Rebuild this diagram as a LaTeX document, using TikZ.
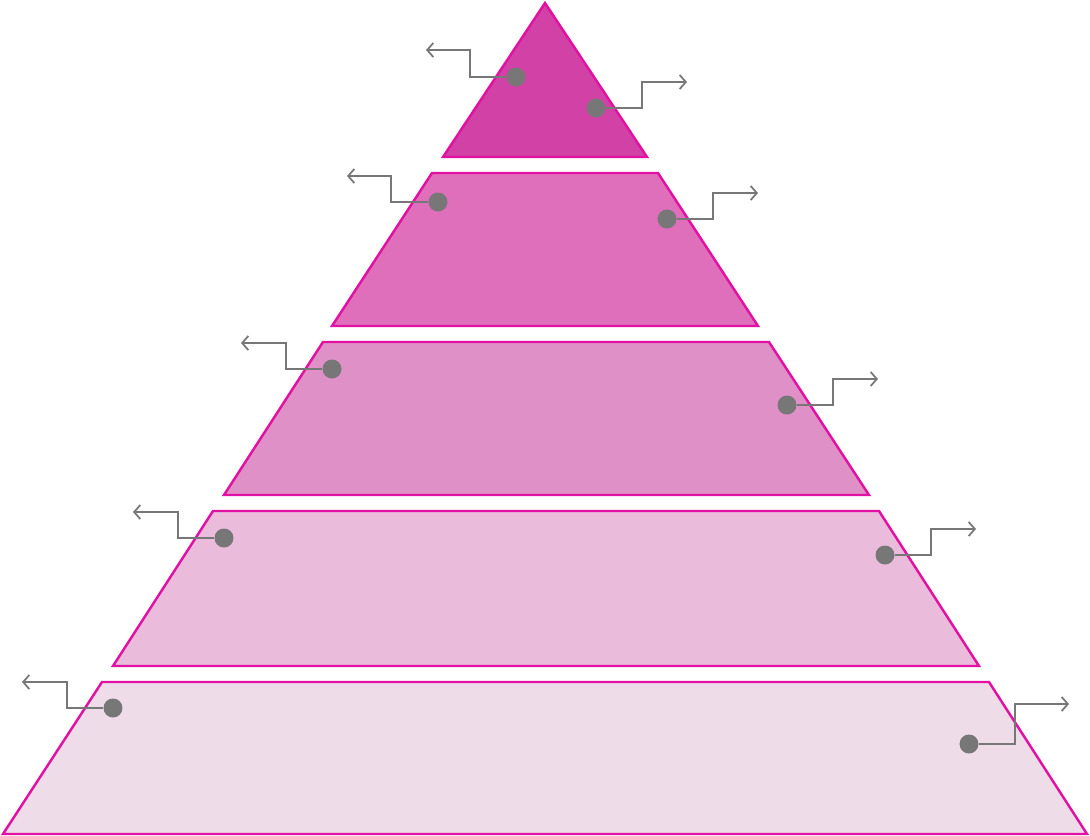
\documentclass[tikz,border=0pt]{standalone}
\usepackage{tikz}
\usetikzlibrary{positioning,arrows.meta}
\definecolor{rim}{HTML}{E011A3}
\definecolor{tierA}{HTML}{D241A6}
\definecolor{tierB}{HTML}{DF6FBB}
\definecolor{tierC}{HTML}{DE90C7}
\definecolor{tierD}{HTML}{EBBBDC}
\definecolor{tierE}{HTML}{EEDCE8}
\definecolor{pin}{HTML}{777777}
\tikzset{
  tier/.style={draw=rim, line width=1.4pt, line join=miter},
  dot/.style={circle, fill=pin, inner sep=0pt, minimum size=0.38cm},
  leader/.style={draw=pin, line width=1pt, -{Straight Barb[length=3.5pt,width=8pt]}}
}
\begin{document}
\begin{tikzpicture}[x=0.02cm, y=-0.02cm]
    \useasboundingbox (0,0) rectangle (1090,836);

    % pyramid tiers
    \draw[tier, fill=tierA] (545,3) -- (647,157) -- (443,157) -- cycle;
    \draw[tier, fill=tierB] (432,173) -- (658,173) -- (758,326) -- (332,326) -- cycle;
    \draw[tier, fill=tierC] (323,342) -- (769,342) -- (869,495) -- (224,495) -- cycle;
    \draw[tier, fill=tierD] (213,511) -- (879,511) -- (979,666) -- (113,666) -- cycle;
    \draw[tier, fill=tierE] (102,682) -- (989,682) -- (1087,834) -- (3,834) -- cycle;

    % leader ends
    \coordinate (l1end) at (426,50);
    \coordinate (r1end) at (687,82);
    \coordinate (l2end) at (347,176);
    \coordinate (r2end) at (758,193);
    \coordinate (l3end) at (241,343);
    \coordinate (r3end) at (878,379);
    \coordinate (l4end) at (133,512);
    \coordinate (r4end) at (976,529);
    \coordinate (l5end) at (22,682);
    \coordinate (r5end) at (1069,704);

    % dots
    \node[dot] (l1) at (516,77) {};
    \node[dot] (r1) at (596,108) {};
    \node[dot] (l2) at (438,202) {};
    \node[dot] (r2) at (667,219) {};
    \node[dot] (l3) at (332,369) {};
    \node[dot] (r3) at (787,405) {};
    \node[dot] (l4) at (224,538) {};
    \node[dot] (r4) at (885,555) {};
    \node[dot] (l5) at (113,708) {};
    \node[dot] (r5) at (969,744) {};

    % leaders
    \draw[leader] (l1) -- ++(-46,0) |- (l1end);
    \draw[leader] (r1) -- ++(46,0) |- (r1end);
    \draw[leader] (l2) -- ++(-47,0) |- (l2end);
    \draw[leader] (r2) -- ++(46,0) |- (r2end);
    \draw[leader] (l3) -- ++(-46,0) |- (l3end);
    \draw[leader] (r3) -- ++(46,0) |- (r3end);
    \draw[leader] (l4) -- ++(-46,0) |- (l4end);
    \draw[leader] (r4) -- ++(46,0) |- (r4end);
    \draw[leader] (l5) -- ++(-46,0) |- (l5end);
    \draw[leader] (r5) -- ++(46,0) |- (r5end);
\end{tikzpicture}
\end{document}
